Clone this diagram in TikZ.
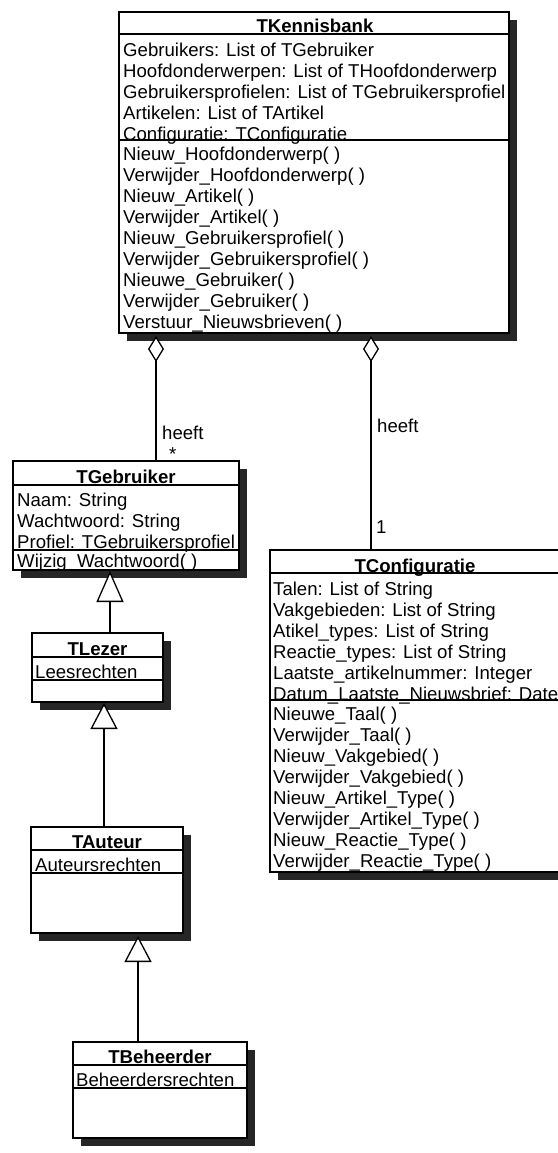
\documentclass[tikz,border=0pt]{standalone}
\usepackage{fontspec}
\setmainfont{Liberation Sans}
\usetikzlibrary{arrows.meta,calc}
\newcommand\umlfont{\fontsize{18.6pt}{21pt}\selectfont}
\tikzset{
  boxc/.style={draw=black, fill=white, line width=1.3pt, inner sep=0pt, outer sep=0pt, rectangle},
  shadowc/.style={fill=black!85},
  sepline/.style={line width=1.3pt},
  attr/.style={anchor=base west, inner sep=0pt, font=\umlfont},
  ttl/.style={anchor=base, inner sep=0pt, font=\umlfont\bfseries},
  lbl/.style={anchor=base west, inner sep=0pt, font=\umlfont},
  conn/.style={line width=1.3pt},
  aggr/.style={conn, {Diamond[fill=white,length=26pt,width=16pt]}-},
  gen/.style={conn, -{Triangle[fill=white,length=#1,width=27pt]}},
  gen/.default=26pt
}
% name, left, top, right, bottom
\newcommand\umlbox[5]{%
  \fill[shadowc] (#2+8,#3+8) rectangle (#4+8,#5+8);
  \node[boxc, anchor=north west, minimum width=#4-#2, minimum height=#5-#3] (#1) at (#2,#3) {};
}
\begin{document}
\begin{tikzpicture}[x=1pt,y=-1pt]
\fill[white] (0,0) rectangle (557,1153);
\useasboundingbox (0,0) rectangle (557,1153);

% ---------- TKennisbank ----------
\umlbox{kb}{119}{12}{509}{333}
\draw[sepline] (119,34) -- (509,34);
\draw[sepline] (119,140) -- (509,140);
\node[ttl] (kbt) at (315,32.5) {TKennisbank};
\foreach \t [count=\i] in {{Gebruikers: List of TGebruiker},{Hoofdonderwerpen: List of THoofdonderwerp},{Gebruikersprofielen: List of TGebruikersprofiel},{Artikelen: List of TArtikel},{Configuratie: TConfiguratie}}
  \node[attr] (kba\i) at ({123},{57+20.75*(\i-1)}) {\t};
\foreach \t [count=\i] in {{Nieuw\_Hoofdonderwerp( )},{Verwijder\_Hoofdonderwerp( )},{Nieuw\_Artikel( )},{Verwijder\_Artikel( )},{Nieuw\_Gebruikersprofiel( )},{Verwijder\_Gebruikersprofiel( )},{Nieuwe\_Gebruiker( )},{Verwijder\_Gebruiker( )},{Verstuur\_Nieuwsbrieven( )}}
  \node[attr] (kbm\i) at ({123},{160+21.1*(\i-1)}) {\t};

% ---------- TGebruiker ----------
\umlbox{geb}{13}{461}{239}{570}
\draw[sepline] (13,485) -- (239,485);
\draw[sepline] (13,550) -- (239,550);
\node[ttl] (gebt) at (126,483.5) {TGebruiker};
\foreach \t [count=\i] in {{Naam: String},{Wachtwoord: String},{Profiel: TGebruikersprofiel}}
  \node[attr] (geba\i) at ({17},{506+21*(\i-1)}) {\t};
\node[attr] (gebm1) at (17,567) {Wijzig\_Wachtwoord( )};

% ---------- TLezer ----------
\umlbox{lez}{32}{633}{163}{702}
\draw[sepline] (32,657) -- (163,657);
\draw[sepline] (32,680) -- (163,680);
\node[ttl] (lezt) at (97.5,655.5) {TLezer};
\node[attr] (leza1) at (35,678.5) {Leesrechten};

% ---------- TAuteur ----------
\umlbox{aut}{31}{827}{183}{933}
\draw[sepline] (31,850) -- (183,850);
\draw[sepline] (31,873) -- (183,873);
\node[ttl] (autt) at (107,848.5) {TAuteur};
\node[attr] (auta1) at (35,871) {Auteursrechten};

% ---------- TBeheerder ----------
\umlbox{beh}{73}{1042}{247}{1138}
\draw[sepline] (73,1065) -- (247,1065);
\draw[sepline] (73,1088) -- (247,1088);
\node[ttl] (beht) at (160,1063.5) {TBeheerder};
\node[attr] (beha1) at (76,1086) {Beheerdersrechten};

% ---------- TConfiguratie ----------
\umlbox{conf}{270}{550}{560}{872}
\draw[sepline] (270,573) -- (560,573);
\draw[sepline] (270,700) -- (560,700);
\node[ttl] (conft) at (415,572) {TConfiguratie};
\foreach \t [count=\i] in {{Talen: List of String},{Vakgebieden: List of String},{Atikel\_types: List of String},{Reactie\_types: List of String},{Laatste\_artikelnummer: Integer},{Datum\_Laatste\_Nieuwsbrief: Date}}
  \node[attr] (confa\i) at ({273},{595+21*(\i-1)}) {\t};
\foreach \t [count=\i] in {{Nieuwe\_Taal( )},{Verwijder\_Taal( )},{Nieuw\_Vakgebied( )},{Verwijder\_Vakgebied( )},{Nieuw\_Artikel\_Type( )},{Verwijder\_Artikel\_Type( )},{Nieuw\_Reactie\_Type( )},{Verwijder\_Reactie\_Type( )}}
  \node[attr] (confm\i) at ({273},{720+21*(\i-1)}) {\t};

% ---------- connectors ----------
\draw[aggr] ($(kb.south west)+(37,3)$) -- ($(geb.north west)+(143,0)$);
\draw[aggr] ($(kb.south west)+(252,3)$) -- ($(conf.north west)+(101,0)$);
\node[lbl] (h1) at (162,439) {heeft};
\node[lbl] (m1) at (169,460) {*};
\node[lbl] (h2) at (377,432) {heeft};
\node[lbl] (m2) at (376,533) {1};

\draw[gen=31pt] ($(lez.north west)+(78,0)$) -- ($(geb.south west)+(97,1)$);
\draw[gen=26pt] ($(aut.north west)+(73,0)$) -- ($(lez.south west)+(72,1)$);
\draw[gen=26pt] ($(beh.north west)+(65,0)$) -- ($(aut.south west)+(107,3)$);
\end{tikzpicture}
\end{document}
